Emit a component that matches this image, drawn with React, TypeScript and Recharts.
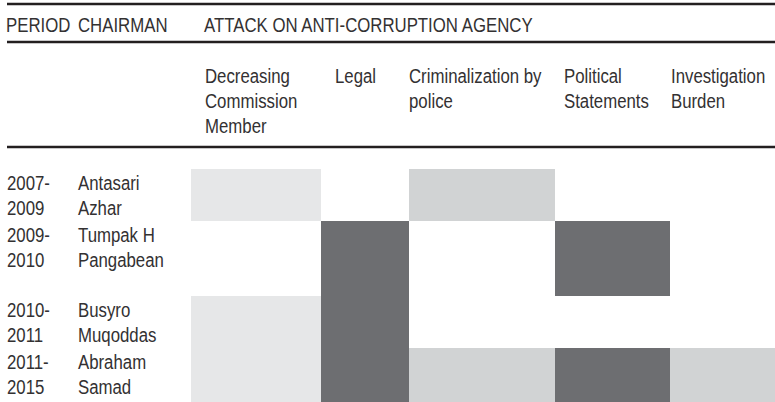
import React from 'react';
import { ComposedChart, XAxis, YAxis, ReferenceArea } from 'recharts';

// rows: KPK chairman periods
const periods = ['2007-2009', '2009-2010', '2010-2011', '2011-2015'];
const chairmen = ['Antasari Azhar', 'Tumpak H Pangabean', 'Busyro Muqoddas', 'Abraham Samad'];

// columns: kinds of attack (one line of text per entry)
const attackTypes = [
    ['Decreasing', 'Commission', 'Member'],
    ['Legal'],
    ['Criminalization by', 'police'],
    ['Political', 'Statements'],
    ['Investigation', 'Burden'],
];

// intensity per period: 0 none, 1 light, 2 medium, 3 heavy
const decreasingMember = [1, 0, 1, 1];
const legal = [0, 3, 3, 3];
const criminalization = [2, 0, 0, 2];
const politicalStatements = [0, 3, 0, 3];
const investigationBurden = [0, 0, 0, 2];

const topHeaders = ['PERIOD', 'CHAIRMAN', 'ATTACK ON ANTI-CORRUPTION AGENCY'];

// layout
const COL_WIDTHS = [130, 88, 146, 115, 105];
const ROW_HEIGHTS = [52, 75, 52, 54];
const HEADER_PAD = [14, 14, 0, 9, 1];
const SHADES = ['none', '#e6e7e8', '#d1d3d4', '#6d6e71'];
const FONT = "'Liberation Sans', Arial, sans-serif";
const FONT_SIZE = 21;
const SQUEEZE = 0.8; // condensed look
const TEXT = '#333132';
const RULE = '#231f20';

const cumulative = (arr: number[]) => arr.map((_, i) => arr.slice(0, i).reduce((a, b) => a + b, 0));
const colStarts = cumulative(COL_WIDTHS);
const rowStarts = cumulative(ROW_HEIGHTS);
const totalW = COL_WIDTHS.reduce((a, b) => a + b, 0);
const totalH = ROW_HEIGHTS.reduce((a, b) => a + b, 0);

const series = [decreasingMember, legal, criminalization, politicalStatements, investigationBurden];

const splitPeriod = (p: string) => {
    const [a, b] = p.split('-');
    return [a + '-', b];
};
const splitName = (n: string) => {
    const i = n.lastIndexOf(' ');
    return [n.slice(0, i), n.slice(i + 1)];
};

const Label = ({ x, y, children }: { x: number; y: number; children: React.ReactNode }) => (
    <text
        transform={`translate(${x},${y}) scale(${SQUEEZE},1)`}
        fill={TEXT}
        fontFamily={FONT}
        fontSize={FONT_SIZE}
    >
        {children}
    </text>
);

const RowTick = (props: any) => {
    const { y, index } = props;
    const p = splitPeriod(periods[index]);
    const c = splitName(chairmen[index]);
    return (
        <g>
            <Label x={7} y={y + 21}>{p[0]}</Label>
            <Label x={7} y={y + 46}>{p[1]}</Label>
            <Label x={78} y={y + 21}>{c[0]}</Label>
            <Label x={78} y={y + 46}>{c[1]}</Label>
        </g>
    );
};

const HeaderTick = (props: any) => {
    const { x, index } = props;
    return (
        <g>
            {attackTypes[index].map((line, i) => (
                <Label key={i} x={x + HEADER_PAD[index]} y={83 + i * 25}>
                    {line}
                </Label>
            ))}
        </g>
    );
};

export default function App() {
    return (
        <div style={{ position: 'relative', width: 775, height: 402, background: '#fff' }}>
            <style>{'body{margin:0}'}</style>
            <ComposedChart width={775} height={402} margin={{ top: 0, right: 0, bottom: 0, left: 0 }}>
                <XAxis
                    dataKey="x"
                    type="number"
                    orientation="top"
                    height={169}
                    domain={[0, totalW]}
                    allowDataOverflow
                    ticks={colStarts}
                    interval={0}
                    axisLine={false}
                    tickLine={false}
                    tick={<HeaderTick />}
                />
                <YAxis
                    dataKey="y"
                    type="number"
                    width={191}
                    reversed
                    domain={[0, totalH]}
                    allowDataOverflow
                    ticks={rowStarts}
                    interval={0}
                    axisLine={false}
                    tickLine={false}
                    tick={<RowTick />}
                />
                {series.flatMap((vals, c) =>
                    vals.map((v, r) =>
                        v ? (
                            <ReferenceArea
                                key={`${c}-${r}`}
                                x1={colStarts[c]}
                                x2={colStarts[c] + COL_WIDTHS[c]}
                                y1={rowStarts[r]}
                                y2={rowStarts[r] + ROW_HEIGHTS[r]}
                                fill={SHADES[v]}
                                fillOpacity={1}
                                stroke="none"
                                shapeRendering="crispEdges"
                            />
                        ) : null
                    )
                )}
            </ComposedChart>
            <svg
                width={775}
                height={402}
                style={{ position: 'absolute', left: 0, top: 0, pointerEvents: 'none' }}
            >
                {[4, 42, 147].map((y) => (
                    <line key={y} x1={7} x2={775} y1={y} y2={y} stroke={RULE} strokeWidth={2.5} />
                ))}
                <Label x={6} y={32}>{topHeaders[0]}</Label>
                <Label x={78} y={32}>{topHeaders[1]}</Label>
                <Label x={204} y={32}>{topHeaders[2]}</Label>
            </svg>
        </div>
    );
}
